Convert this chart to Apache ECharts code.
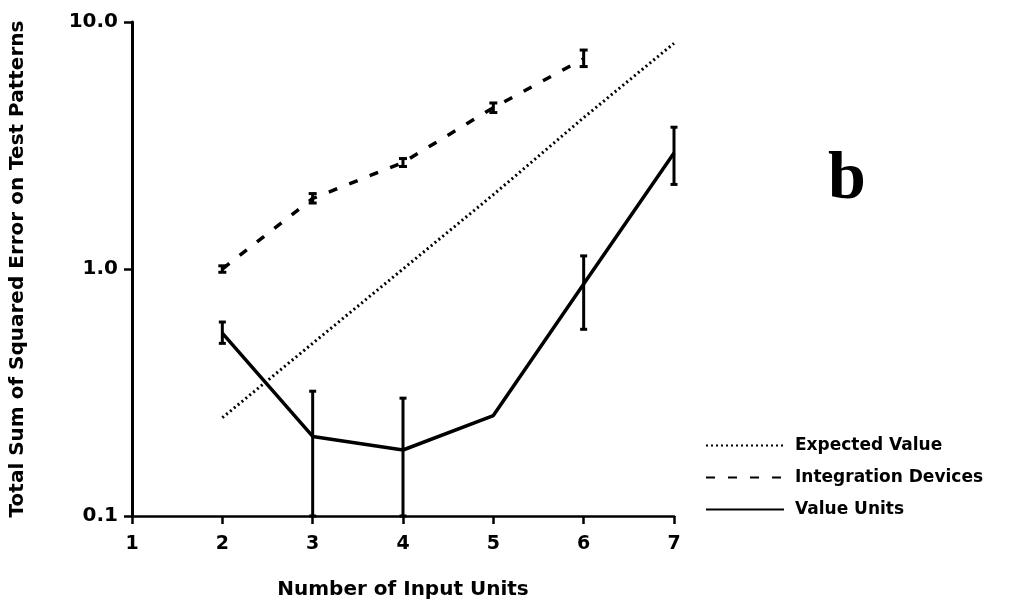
<!DOCTYPE html>
<html>
<head>
<meta charset="utf-8">
<script src="https://cdn.jsdelivr.net/npm/echarts@6/dist/echarts.min.js"></script>
<style>
  html, body {margin: 0; padding: 0; background: #fff;}
  #chart {width: 1022px; height: 605px;}
</style>
</head>
<body>
<div id="chart"></div>
<script>
// number of input units
const inputUnits = [2, 3, 4, 5, 6, 7];

const expectedValue = [0.25, 0.5, 1.0, 2.0, 4.1, 8.2];

const integrationUnits = [2, 3, 4, 5, 6];
const integrationDevices = [1.0, 1.93, 2.7, 4.5, 7.1];
const integrationLow = [0.97, 1.85, 2.6, 4.3, 6.6];
const integrationHigh = [1.03, 2.02, 2.8, 4.7, 7.7];

const valueUnits = [0.55, 0.21, 0.185, 0.255, 0.87, 2.95];
const valueLow = [0.5, 0.1, 0.1, 0.255, 0.57, 2.2];
const valueHigh = [0.61, 0.32, 0.30, 0.255, 1.13, 3.75];

const yTicks = [0.1, 1, 10];

const font = "DejaVu Sans";

function errorBars(xs, lows, highs, capWidth) {
  return xs.map((x, i) => [x, lows[i], highs[i], capWidth]);
}

function renderErrorBar(params, api) {
  const x = api.value(0);
  const lo = api.coord([x, api.value(1)]);
  const hi = api.coord([x, api.value(2)]);
  const half = api.value(3) / 2;
  if (Math.abs(lo[1] - hi[1]) < 1) {
    return null;
  }
  const style = {stroke: "#000", lineWidth: 3};
  return {
    type: "group",
    children: [
      {type: "line", shape: {x1: lo[0], y1: lo[1], x2: hi[0], y2: hi[1]}, style: style},
      {type: "line", shape: {x1: hi[0] - half, y1: hi[1], x2: hi[0] + half, y2: hi[1]}, style: style},
      {type: "line", shape: {x1: lo[0] - half, y1: lo[1], x2: lo[0] + half, y2: lo[1]}, style: style},
    ],
  };
}

const chart = echarts.init(document.getElementById("chart"));

const option = {
  backgroundColor: "#fff",
  animation: false,
  grid: {left: 128, right: 348, top: 22, bottom: 89},
  legend: {
    data: ["Expected Value", "Integration Devices", "Value Units"],
    orient: "vertical",
    left: 700,
    top: 432,
    itemWidth: 78,
    itemHeight: 12,
    itemGap: 15,
    itemStyle: {opacity: 0},
    textStyle: {fontFamily: font, fontWeight: "bold", fontSize: 17, color: "#000", padding: [0, 0, 0, 6]},
  },
  xAxis: {
    type: "value",
    min: 1,
    max: 7,
    interval: 1,
    name: "Number of Input Units",
    nameLocation: "middle",
    nameGap: 64,
    nameTextStyle: {fontFamily: font, fontWeight: "bold", fontSize: 20, color: "#000"},
    axisLine: {lineStyle: {color: "#000", width: 2.5}},
    axisTick: {length: 8, lineStyle: {color: "#000", width: 2.5}},
    axisLabel: {fontFamily: font, fontWeight: "bold", fontSize: 19, color: "#000", margin: 19},
    splitLine: {show: false},
  },
  yAxis: {
    type: "log",
    logBase: 10,
    min: 0.1,
    max: 10,
    name: "Total Sum of Squared Error on Test Patterns",
    nameLocation: "middle",
    nameRotate: 90,
    nameGap: 104,
    nameTextStyle: {fontFamily: font, fontWeight: "bold", fontSize: 20, color: "#000"},
    axisLine: {lineStyle: {color: "#000", width: 3}},
    axisTick: {length: 8, lineStyle: {color: "#000", width: 2.5}},
    axisLabel: {
      fontFamily: font, fontWeight: "bold", fontSize: 20, color: "#000", margin: 14,
      formatter: (v) => yTicks.some(t => Math.abs(t - v) < 1e-9) ? v.toFixed(1) : "",
    },
    splitLine: {show: false},
  },
  graphic: [
    {
      type: "text",
      left: 828,
      top: 146,
      style: {text: "b", fontFamily: "Liberation Serif", fontWeight: "bold", fontSize: 68, fill: "#000"},
    },
  ],
  series: [
    {
      name: "Expected Value",
      type: "line",
      symbol: "none",
      data: inputUnits.map((x, i) => [x, expectedValue[i]]),
      lineStyle: {color: "#000", width: 3, type: [2, 3]},
      itemStyle: {color: "#000"},
    },
    {
      name: "Integration Devices",
      type: "line",
      symbol: "none",
      data: integrationUnits.map((x, i) => [x, integrationDevices[i]]),
      lineStyle: {color: "#000", width: 3.5, type: [9, 13]},
      itemStyle: {color: "#000"},
    },
    {
      name: "Value Units",
      type: "line",
      symbol: "none",
      data: inputUnits.map((x, i) => [x, valueUnits[i]]),
      lineStyle: {color: "#000", width: 3.5},
      itemStyle: {color: "#000"},
    },
    {
      name: "Integration Devices bars",
      type: "custom",
      renderItem: renderErrorBar,
      data: errorBars(integrationUnits, integrationLow, integrationHigh, 8),
      z: 5,
    },
    {
      name: "Value Units bars",
      type: "custom",
      renderItem: renderErrorBar,
      data: errorBars(inputUnits, valueLow, valueHigh, 7),
      z: 5,
    },
  ],
};

chart.setOption(option);
</script>
</body>
</html>
